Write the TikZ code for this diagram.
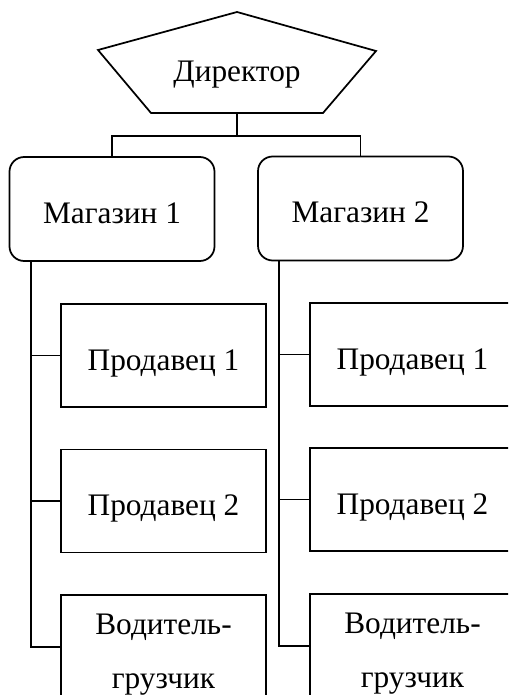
\documentclass[tikz,border=0pt]{standalone}
\usepackage{fontspec}
\setmainfont{Liberation Serif}
\begin{document}
\begin{tikzpicture}[x=0.75pt,y=-0.75pt,line width=1.3pt,
  every node/.style={font=\fontsize{23.5}{40}\selectfont, inner sep=0pt},
  lbl/.style={text height=21.75pt, text depth=0pt},
  box/.style={draw, rectangle, lbl, minimum width=153.75pt, minimum height=77.25pt},
  shop/.style={box, rounded corners=11pt, minimum height=78pt},
  plain/.style={anchor=base}]
\clip (0,0) rectangle (508,695);
% director
\draw (237,12) -- (376,51) -- (323,113) -- (151,113) -- (98,50) -- cycle;
\node[lbl] (dir) at (237,67.5) {Директор};
\coordinate (dirb) at (237,113);
\coordinate (bus) at (237,136);
% shops
\node[shop] (m1) at (112,209) {Магазин 1};
\node[shop] (m2) at (360.5,208.5) {Магазин 2};
\draw (dirb) -- (bus);
\draw (m1.north) |- (bus) -| (m2.north);
% left column
\node[box] (p11) at (163.5,355.5) {Продавец 1};
\node[box] (p12) at (163.5,501) {Продавец 2};
\node[box, minimum height=78pt] (v1) at (163.5,647) {};
\node[plain] (v1a) at (163.5,634.5) {Водитель-};
\node[plain] (v1b) at (163.5,688) {грузчик};
\coordinate (s1) at (31,261);
\draw (s1) |- (p11.west);
\draw (s1) |- (p12.west);
\draw (s1) |- (v1.west);
% right column
\node[box] (p21) at (412.5,354.5) {Продавец 1};
\node[box] (p22) at (412.5,499.5) {Продавец 2};
\node[box, minimum height=78pt] (v2) at (412.5,646) {};
\node[plain] (v2a) at (412.5,633.5) {Водитель-};
\node[plain] (v2b) at (412.5,687) {грузчик};
\coordinate (s2) at (279,260);
\draw (s2) |- (p21.west);
\draw (s2) |- (p22.west);
\draw (s2) |- (v2.west);
\end{tikzpicture}
\end{document}
